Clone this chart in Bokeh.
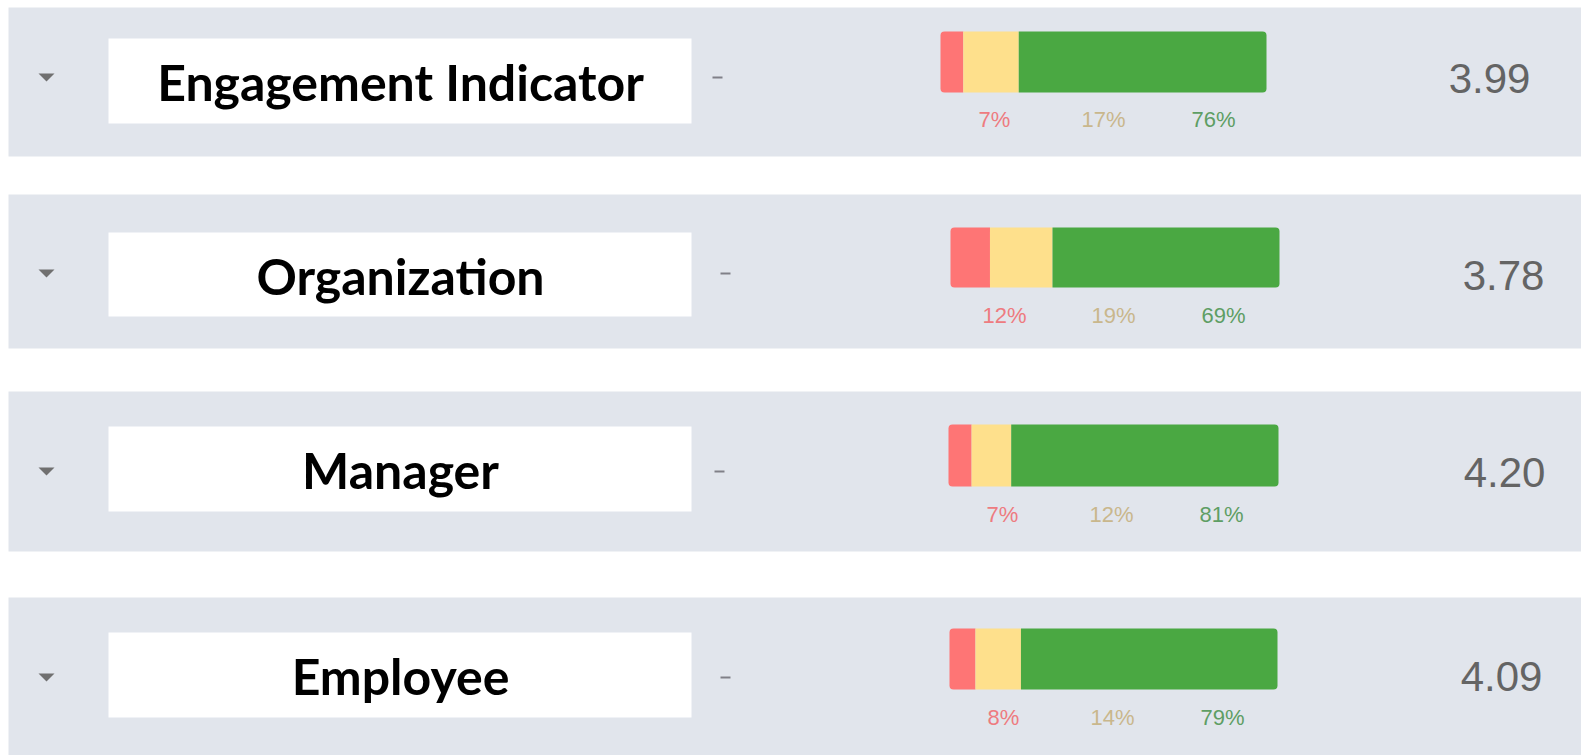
from bokeh.plotting import figure
from bokeh.models import Range1d, ColumnDataSource
from bokeh.core.properties import value
from bokeh.embed import file_html
from bokeh.resources import INLINE

# ---- data ----
categories = ["Engagement Indicator", "Organization", "Manager", "Employee"]
unfavorable = [7, 12, 7, 8]
neutral = [17, 19, 12, 14]
favorable = [76, 69, 81, 79]
scores = [3.99, 3.78, 4.20, 4.09]

# ---- layout (screen px, y downwards) ----
W, H = 1581, 755
band_top = [7, 194, 391, 597]
band_bottom = [156, 348, 551, 755]
box_top = [38, 232, 426, 632]
box_bottom = [123, 316, 511, 717]
bar_left = [940, 950, 948, 949]
bar_right = [1266, 1279, 1278, 1277]
bar_top = [31, 227, 424, 628]
bar_bottom = [92, 287, 486, 689]
pct_y = [119, 315, 514, 717]
pct_offsets = [54, 163, 273]
value_x = [1489, 1503, 1504, 1501]
value_y = [78, 275, 472, 676]
icon_y = [77, 273, 471, 677]
icon_x = 46
dash_x = [717, 725, 719, 725]

BAND = "#e1e5ec"
RED, YEL, GRN = "#fe7575", "#fee08c", "#4aa842"
PCT_COLORS = ["#ee7b80", "#c9b78c", "#5e9e64"]

p = figure(width=W, height=H, output_backend="svg", toolbar_location=None,
           x_range=Range1d(0, W), y_range=Range1d(H, 0),
           x_axis_type=None, y_axis_type=None, min_border=0,
           outline_line_color=None, background_fill_color="white",
           border_fill_color="white")
p.grid.visible = False

n = len(categories)
p.quad(left=[8] * n, right=[W] * n, top=band_top, bottom=band_bottom,
       fill_color=BAND, line_color=None)
p.quad(left=[108] * n, right=[691] * n, top=box_top, bottom=box_bottom,
       fill_color="white", line_color=None)

# stacked bars from percentages
segs = []
for i in range(n):
    vals = [unfavorable[i], neutral[i], favorable[i]]
    tot = sum(vals)
    span = bar_right[i] - bar_left[i]
    edges = [bar_left[i]]
    c = 0
    for v in vals:
        c += v
        edges.append(bar_left[i] + span * c / tot)
    segs.append(edges)

def seg_src(k):
    return ColumnDataSource(dict(
        left=[segs[i][k] for i in range(n)],
        right=[segs[i][k + 1] for i in range(n)],
        top=bar_top, bottom=bar_bottom))

p.quad(left="left", right="right", top="top", bottom="bottom", source=seg_src(0),
       fill_color=RED, line_color=None, border_radius=(4, 0, 0, 4))
p.quad(left="left", right="right", top="top", bottom="bottom", source=seg_src(1),
       fill_color=YEL, line_color=None)
p.quad(left="left", right="right", top="top", bottom="bottom", source=seg_src(2),
       fill_color=GRN, line_color=None, border_radius=(0, 4, 4, 0))

# percentage labels
series = [unfavorable, neutral, favorable]
for k in range(3):
    p.text(x=[bar_left[i] + pct_offsets[k] for i in range(n)], y=pct_y,
           text=[f"{v}%" for v in series[k]], text_align="center",
           text_baseline="middle", text_font=value("Liberation Sans"),
           text_font_size="22px", text_color=PCT_COLORS[k])

# category labels
p.text(x=[400] * n, y=[(a + b) / 2 + 1 for a, b in zip(box_top, box_bottom)],
       text=categories, text_align="center", text_baseline="middle",
       text_font=value("Lato"), text_font_style="bold",
       text_font_size="50px", text_color="black")

# scores
p.text(x=value_x, y=value_y, text=[f"{s:.2f}" for s in scores],
       text_align="center", text_baseline="middle",
       text_font=value("Liberation Sans"), text_font_size="42px",
       text_color="#646464")

# expand icons (flat down-pointing triangles) and dashes
p.patches(xs=[[icon_x - 8, icon_x + 8, icon_x] for _ in icon_y],
          ys=[[y - 4, y - 4, y + 4] for y in icon_y],
          fill_color="#707070", line_color=None)
p.segment(x0=[x - 5 for x in dash_x], x1=[x + 5 for x in dash_x],
          y0=icon_y, y1=icon_y, line_color="#808088", line_width=2)

open("out.html", "w").write(file_html(p, INLINE))
